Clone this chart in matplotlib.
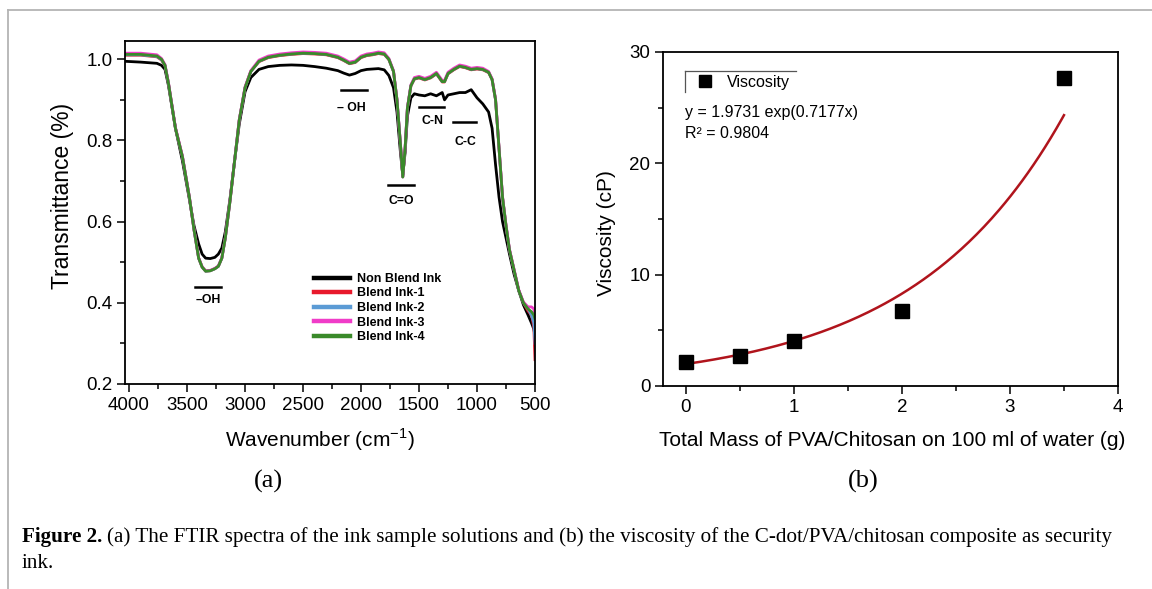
import matplotlib
matplotlib.use("Agg")
import matplotlib.pyplot as plt
from matplotlib.lines import Line2D
import numpy as np

# ---------------- data: (a) FTIR spectra ----------------
wavenumber = [4035, 3900, 3760, 3720, 3690, 3660, 3600, 3540, 3480, 3440, 3400, 3370,
              3340, 3300, 3260, 3230, 3200, 3170, 3130, 3090, 3050, 3000, 2950, 2880,
              2800, 2700, 2600, 2500, 2400, 2300, 2200, 2150, 2100, 2050, 2000, 1950,
              1900, 1850, 1800, 1760, 1720, 1690, 1660, 1640, 1620, 1600, 1570, 1540,
              1500, 1450, 1400, 1350, 1300, 1280, 1250, 1200, 1150, 1100, 1050, 1000,
              950, 900, 870, 840, 810, 780, 750, 720, 680, 640, 600, 560, 530, 510, 500]

non_blend_ink = [0.995, 0.993, 0.990, 0.985, 0.975, 0.935, 0.830, 0.750, 0.655, 0.590, 0.545, 0.520,
                 0.510, 0.509, 0.512, 0.520, 0.535, 0.575, 0.655, 0.750, 0.840, 0.920, 0.955, 0.975,
                 0.982, 0.985, 0.986, 0.985, 0.982, 0.978, 0.972, 0.966, 0.961, 0.965, 0.972, 0.975,
                 0.976, 0.977, 0.974, 0.960, 0.930, 0.870, 0.770, 0.715, 0.770, 0.860, 0.905, 0.915,
                 0.912, 0.910, 0.915, 0.910, 0.918, 0.900, 0.912, 0.915, 0.918, 0.918, 0.925, 0.905,
                 0.890, 0.870, 0.830, 0.740, 0.660, 0.600, 0.560, 0.520, 0.470, 0.430, 0.395, 0.370, 0.350, 0.335, 0.320]

blend_ink_1 = [1.010, 1.010, 1.006, 0.998, 0.984, 0.940, 0.830, 0.760, 0.660, 0.580, 0.510, 0.488,
               0.478, 0.479, 0.484, 0.490, 0.510, 0.560, 0.650, 0.750, 0.850, 0.930, 0.970, 0.994,
               1.004, 1.009, 1.012, 1.014, 1.013, 1.011, 1.004, 0.997, 0.989, 0.992, 1.004, 1.009,
               1.011, 1.014, 1.012, 0.999, 0.970, 0.900, 0.790, 0.710, 0.780, 0.880, 0.934, 0.951,
               0.954, 0.949, 0.954, 0.964, 0.944, 0.944, 0.964, 0.974, 0.982, 0.979, 0.974, 0.976,
               0.974, 0.967, 0.950, 0.900, 0.780, 0.660, 0.590, 0.530, 0.480, 0.430, 0.400, 0.380, 0.370, 0.340, 0.260]

blend_ink_2 = [1.011, 1.011, 1.007, 0.999, 0.985, 0.940, 0.830, 0.760, 0.660, 0.580, 0.510, 0.488,
               0.478, 0.479, 0.484, 0.490, 0.510, 0.560, 0.650, 0.750, 0.850, 0.930, 0.970, 0.995,
               1.005, 1.010, 1.013, 1.015, 1.014, 1.012, 1.005, 0.998, 0.990, 0.993, 1.005, 1.010,
               1.012, 1.015, 1.013, 1.000, 0.970, 0.900, 0.790, 0.710, 0.780, 0.880, 0.935, 0.952,
               0.955, 0.950, 0.955, 0.965, 0.945, 0.945, 0.965, 0.975, 0.983, 0.980, 0.975, 0.977,
               0.975, 0.968, 0.950, 0.900, 0.780, 0.660, 0.590, 0.530, 0.480, 0.430, 0.400, 0.385, 0.370, 0.350, 0.300]

blend_ink_3 = [1.015, 1.015, 1.011, 1.002, 0.987, 0.942, 0.832, 0.762, 0.661, 0.581, 0.511, 0.489,
               0.479, 0.480, 0.485, 0.491, 0.511, 0.561, 0.651, 0.751, 0.851, 0.932, 0.972, 0.998,
               1.008, 1.013, 1.016, 1.018, 1.017, 1.015, 1.008, 1.001, 0.993, 0.996, 1.008, 1.013,
               1.015, 1.018, 1.016, 1.002, 0.972, 0.901, 0.791, 0.711, 0.781, 0.881, 0.937, 0.955,
               0.958, 0.953, 0.958, 0.968, 0.948, 0.948, 0.968, 0.978, 0.986, 0.983, 0.978, 0.980,
               0.978, 0.970, 0.952, 0.902, 0.782, 0.662, 0.592, 0.532, 0.482, 0.432, 0.402, 0.390, 0.390, 0.385, 0.370]

blend_ink_4 = [1.012, 1.012, 1.008, 1.000, 0.985, 0.940, 0.830, 0.760, 0.660, 0.580, 0.510, 0.488,
               0.478, 0.479, 0.484, 0.490, 0.510, 0.560, 0.650, 0.750, 0.850, 0.930, 0.970, 0.995,
               1.005, 1.010, 1.013, 1.015, 1.014, 1.012, 1.005, 0.998, 0.990, 0.993, 1.005, 1.010,
               1.012, 1.015, 1.013, 1.000, 0.970, 0.900, 0.790, 0.710, 0.780, 0.880, 0.935, 0.952,
               0.955, 0.950, 0.955, 0.965, 0.945, 0.945, 0.965, 0.975, 0.983, 0.980, 0.975, 0.977,
               0.975, 0.968, 0.950, 0.900, 0.780, 0.660, 0.590, 0.530, 0.480, 0.430, 0.400, 0.385, 0.378, 0.370, 0.360]

series_labels = ["Non Blend Ink", "Blend Ink-1", "Blend Ink-2", "Blend Ink-3", "Blend Ink-4"]
series_colors = ["#000000", "#e8192c", "#5b9bd5", "#f03cc8", "#3a8a2a"]

# peak annotations: label, bar start, bar end, bar level, text x, text y
peak_labels = ["\u2013 OH", "C=O", "C-N", "C-C", "\u2013OH"]
peak_bar_x0 = [2172, 1767, 1500, 1207, 3431]
peak_bar_x1 = [1948, 1543, 1284, 1009, 3207]
peak_bar_y = [0.924, 0.690, 0.882, 0.845, 0.439]
peak_text_x = [2086, 1655, 1388, 1103, 3319]
peak_text_y = [0.879, 0.650, 0.847, 0.796, 0.407]

# ---------------- data: (b) viscosity ----------------
mass = [0, 0.5, 1, 2, 3.5]
viscosity = [2.2, 2.7, 4.0, 6.7, 27.7]
fit_a = 1.9731
fit_b = 0.7177

# ---------------- figure ----------------
W, H = 1152, 589
fig = plt.figure(figsize=(W / 100, H / 100), dpi=100)
plt.rcParams['font.family'] = ['Liberation Sans', 'DejaVu Sans']


def fx(px):
    return px / W


def fy(py):
    return 1 - py / H


# outer border (top and left)
fig.add_artist(Line2D([fx(8), fx(W)], [fy(10), fy(10)], color="#b4b4b4", lw=1.3))
fig.add_artist(Line2D([fx(8), fx(8)], [fy(10), fy(H)], color="#b4b4b4", lw=1.3))

tick_font = 13.5
spine_w = 1.3

# ---- panel (a)
ax1 = fig.add_axes([fx(125), fy(384), fx(535) - fx(125), fy(41) - fy(384)])
series = [non_blend_ink, blend_ink_1, blend_ink_2, blend_ink_3, blend_ink_4]
handles = []
for vals, lab, col in zip(series, series_labels, series_colors):
    h, = ax1.plot(wavenumber, vals, color=col, lw=2.0, label=lab, solid_joinstyle="round")
    handles.append(h)
ax1.set_xlim(4035, 500)
ax1.set_ylim(0.2, 1.045)
ax1.set_xticks([4000, 3500, 3000, 2500, 2000, 1500, 1000, 500])
ax1.set_xticks(np.arange(750, 4000, 500), minor=True)
ax1.set_yticks([0.2, 0.4, 0.6, 0.8, 1.0])
ax1.set_yticklabels(["0.2", "0.4", "0.6", "0.8", "1.0"])
ax1.set_yticks([0.3, 0.5, 0.7, 0.9], minor=True)
ax1.tick_params(which="both", direction="out", top=False, right=False,
                labelsize=tick_font, width=1.1, pad=3)
ax1.tick_params(which="major", length=6)
ax1.tick_params(which="minor", length=3.5)
for s in ax1.spines.values():
    s.set_linewidth(spine_w)
ax1.set_xlabel("Wavenumber (cm$^{\\mathregular{-1}}$)", fontsize=15)
ax1.xaxis.set_label_coords((320 - 125) / 410, -(440 - 384) / 343)
ax1.set_ylabel("Transmittance (%)", fontsize=16.5)
ax1.yaxis.set_label_coords(-(125 - 62) / 410, (384 - 196) / 343)
ax1.xaxis.label.set_va("center")
ax1.yaxis.label.set_va("center")

for lab, x0, x1, yb, tx, ty in zip(peak_labels, peak_bar_x0, peak_bar_x1, peak_bar_y,
                                   peak_text_x, peak_text_y):
    ax1.plot([x0, x1], [yb, yb], color="black", lw=1.8)
    ax1.text(tx, ty, lab, ha="center", va="center", fontsize=8.8, fontweight="bold")

leg1 = ax1.legend(handles=handles, loc="upper left",
                  bbox_to_anchor=(fx(314), fy(273)), bbox_transform=fig.transFigure,
                  frameon=False, prop={"size": 9, "weight": "bold"},
                  handlelength=2.9, handletextpad=0.55, labelspacing=0.2,
                  borderaxespad=0, borderpad=0)
for lh in leg1.get_lines():
    lh.set_linewidth(3.2)

fig.text(fx(268), fy(481), "(a)", ha="center", va="center", fontsize=19,
         family="Liberation Serif")

# ---- panel (b)
ax2 = fig.add_axes([fx(663), fy(386), fx(1118) - fx(663), fy(52) - fy(386)])
xf = np.linspace(mass[0], mass[-1], 200)
ax2.plot(xf, fit_a * np.exp(fit_b * xf), color="#b0141c", lw=1.8, zorder=2)
pts, = ax2.plot(mass, viscosity, ls="none", marker="s", ms=10.5, color="black",
                label="Viscosity", zorder=3)
ax2.set_xlim(-0.21, 4)
ax2.set_ylim(0, 30)
ax2.set_xticks([0, 1, 2, 3, 4])
ax2.set_xticks([0.5, 1.5, 2.5, 3.5], minor=True)
ax2.set_yticks([0, 10, 20, 30])
ax2.set_yticks([5, 15, 25], minor=True)
ax2.tick_params(which="both", direction="out", top=False, right=False,
                labelsize=tick_font, width=1.1, pad=3)
ax2.tick_params(which="major", length=6)
ax2.tick_params(which="minor", length=3.5)
for s in ax2.spines.values():
    s.set_linewidth(spine_w)
ax2.set_xlabel("Total Mass of PVA/Chitosan on 100 ml of water (g)", fontsize=15)
ax2.xaxis.set_label_coords((892 - 663) / 455, -(441 - 386) / 334)
ax2.set_ylabel("Viscosity (cP)", fontsize=15)
ax2.yaxis.set_label_coords(-(663 - 607) / 455, (386 - 233) / 334)
ax2.xaxis.label.set_va("center")
ax2.yaxis.label.set_va("center")

leg2 = ax2.legend(handles=[pts], loc="center left",
                  bbox_to_anchor=(fx(697), fy(82)), bbox_transform=fig.transFigure,
                  frameon=False, prop={"size": 11.5}, markerscale=0.85,
                  handlelength=1.0, handletextpad=0.9, borderaxespad=0, borderpad=0)
fig.add_artist(Line2D([fx(685), fx(796)], [fy(71), fy(71)], color="#555555", lw=0.9))
fig.add_artist(Line2D([fx(685), fx(685)], [fy(71), fy(92)], color="#555555", lw=0.9))

fig.text(fx(685), fy(113), "y = 1.9731 exp(0.7177x)", ha="left", va="center", fontsize=11.5)
fig.text(fx(685), fy(133), "R\u00b2 = 0.9804", ha="left", va="center", fontsize=11.5)

fig.text(fx(863), fy(481), "(b)", ha="center", va="center", fontsize=19,
         family="Liberation Serif")

# ---- caption
cap_y1 = 537
cap_size = 15.2
fig.text(fx(22), fy(cap_y1), "Figure 2.", ha="left", va="center", fontsize=cap_size,
         family="Liberation Serif", fontweight="bold")
fig.text(fx(107), fy(cap_y1),
         "(a) The FTIR spectra of the ink sample solutions and (b) the viscosity of the "
         "C-dot/PVA/chitosan composite as security",
         ha="left", va="center", fontsize=cap_size, family="Liberation Serif")
fig.text(fx(22), fy(563), "ink.", ha="left", va="center", fontsize=cap_size,
         family="Liberation Serif")

fig.savefig("out.png", dpi=100)
